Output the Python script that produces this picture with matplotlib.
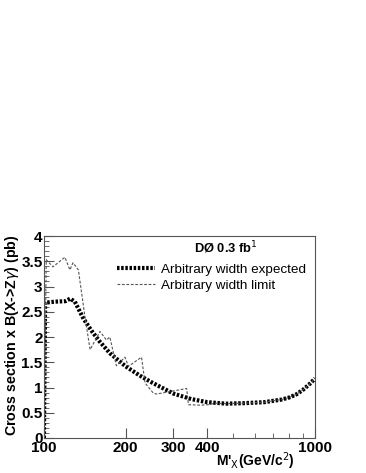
import matplotlib
matplotlib.use("Agg")
import matplotlib.pyplot as plt
from matplotlib.ticker import FixedLocator, NullFormatter, MultipleLocator

plt.rcParams['font.family'] = ['Liberation Sans', 'DejaVu Sans']

mass_exp = [100, 101, 110, 120, 125, 130, 140, 150, 160, 175, 200, 225, 250, 300, 350, 400, 470, 550, 650, 750, 800, 850, 900, 950, 1000]
xsec_exp = [0.0, 2.68, 2.70, 2.71, 2.76, 2.70, 2.36, 2.12, 1.92, 1.68, 1.42, 1.24, 1.10, 0.88, 0.77, 0.71, 0.68, 0.69, 0.71, 0.76, 0.80, 0.86, 0.95, 1.06, 1.18]

mass_lim = [100, 102, 108, 119.5, 124.7, 128, 134, 141.6, 148, 161, 170, 175, 185, 199, 205, 229, 236, 253, 260, 336, 341, 376, 404, 430, 470, 550, 650, 750, 800, 850, 900, 950, 1000]
xsec_lim = [0.0, 3.53, 3.39, 3.58, 3.33, 3.47, 3.33, 2.41, 1.75, 2.11, 1.94, 2.0, 1.43, 1.60, 1.42, 1.60, 1.09, 0.89, 0.87, 0.98, 0.66, 0.65, 0.66, 0.69, 0.68, 0.69, 0.71, 0.76, 0.80, 0.86, 0.95, 1.06, 1.18]

x_major = [100, 200, 300, 400, 1000]
x_minor = [500, 600, 700, 800, 900]
y_major = [0, 0.5, 1, 1.5, 2, 2.5, 3, 3.5, 4]
y_labels = ['0', '0.5', '1', '1.5', '2', '2.5', '3', '3.5', '4']

fig = plt.figure(figsize=(3.66, 4.73), dpi=100)
ax = fig.add_axes([0.120, 0.074, 0.741, 0.427])

ax.plot(mass_exp, xsec_exp, color='black', lw=3.0, ls=(0, (0.6, 0.4)),
        label='Arbitrary width expected')
ax.plot(mass_lim, xsec_lim, color='#555555', lw=0.8, ls=(0, (2.5, 1.5)),
        label='Arbitrary width limit')

ax.set_xscale('log')
ax.set_xlim(100, 1000)
ax.set_ylim(0, 4)
ax.xaxis.set_major_locator(FixedLocator(x_major))
ax.xaxis.set_minor_locator(FixedLocator(x_minor))
ax.set_xticklabels([str(v) for v in x_major])
ax.xaxis.set_minor_formatter(NullFormatter())
ax.yaxis.set_major_locator(FixedLocator(y_major))
ax.yaxis.set_minor_locator(MultipleLocator(0.1))
ax.set_yticklabels(y_labels)

ax.tick_params(axis='both', which='both', direction='in', labelsize=11, pad=1,
               top=False, right=False, color='#555555')
ax.tick_params(which='major', length=7)
ax.tick_params(which='minor', length=3.5)
ax.tick_params(axis='x', pad=2)
for lab in ax.get_xticklabels() + ax.get_yticklabels():
    lab.set_fontweight('bold')
for sp in ax.spines.values():
    sp.set_color('#555555')
    sp.set_linewidth(0.8)

ax.set_ylabel(r'Cross section x B(X->Z$\gamma$) (pb)', fontsize=10.3,
              fontweight='bold')
ax.yaxis.set_label_coords(-0.085, 0.51)
ax.set_xlabel(r"M'$_{\rm X}$(GeV/c$^{\rm 2}$)", fontsize=10, fontweight='bold',
              loc='right', labelpad=0)
ax.xaxis.set_label_coords(0.926, -0.06)

ax.text(0.67, 0.94, r'DØ 0.3 fb$^{\rm 1}$', transform=ax.transAxes,
        fontsize=9.3, fontweight='bold', ha='center', va='center')
ax.legend(loc='upper left', bbox_to_anchor=(0.27, 0.865), frameon=False,
          fontsize=9.7, handlelength=2.8, handletextpad=0.45, labelspacing=0.3,
          borderaxespad=0, borderpad=0)

fig.savefig('out.png', dpi=100)
